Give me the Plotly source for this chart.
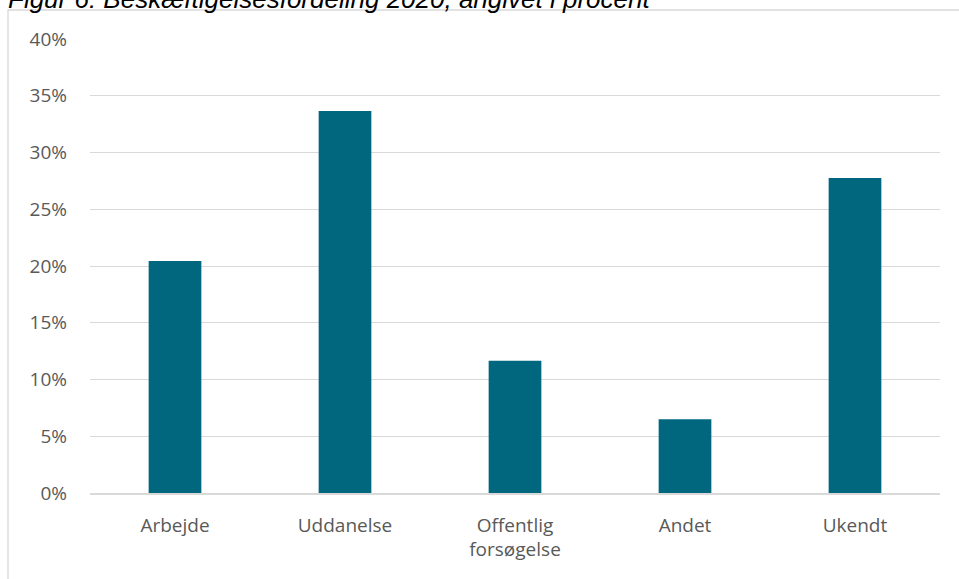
import plotly.graph_objects as go

categories = ["Arbejde", "Uddanelse", "Offentlig<br>forsøgelse", "Andet", "Ukendt"]
values = [20.45, 33.65, 11.65, 6.5, 27.75]
tick_vals = [0, 5, 10, 15, 20, 25, 30, 35, 40]
tick_text = [f"{v}%" for v in tick_vals]
title_text = "Figur 6: Beskæftigelsesfordeling 2020, angivet i procent"

W, H = 959, 579
ML, MR, MT, MB = 90, 19, 39, 86
PW, PH = W - ML - MR, H - MT - MB

def px_to_paper_x(px):
    return (px - ML) / PW

def px_to_paper_y(py):
    return (H - MB - py) / PH

fig = go.Figure(go.Bar(
    x=categories, y=values,
    marker=dict(color="#00677F", line=dict(width=0)),
    width=0.31,
))

font_family = "Open Sans, sans-serif"

fig.update_layout(
    width=W, height=H,
    margin=dict(l=ML, r=MR, t=MT, b=MB),
    paper_bgcolor="white", plot_bgcolor="white",
    showlegend=False,
    font=dict(family=font_family, color="#595959", size=19),
    xaxis=dict(showgrid=False, showline=True, linecolor="#D9D9D9", linewidth=1.5,
               ticks="", tickfont=dict(size=19, color="#595959"), ticklabelstandoff=14),
    yaxis=dict(range=[0, 40], tickvals=tick_vals, ticktext=tick_text,
               showgrid=True, gridcolor="#D9D9D9", gridwidth=1.3,
               zeroline=False, showline=False, ticks="",
               tickfont=dict(size=19, color="#595959"), ticklabelstandoff=22),
    annotations=[dict(
        text=title_text, xref="paper", yref="paper",
        x=px_to_paper_x(6), y=px_to_paper_y(-1), xanchor="left", yanchor="middle",
        showarrow=False, font=dict(family="Liberation Sans, Arial", size=26, color="black"),
    )],
    shapes=[dict(
        type="rect", xref="paper", yref="paper",
        x0=px_to_paper_x(8), x1=px_to_paper_x(975),
        y0=px_to_paper_y(600), y1=px_to_paper_y(10),
        line=dict(color="#D9D9D9", width=1.3), layer="below",
    )],
)
fig.update_annotations(font_style="italic")

fig.write_html("out.html", config={"displayModeBar": False},
               post_script="document.body.style.margin='0';")
